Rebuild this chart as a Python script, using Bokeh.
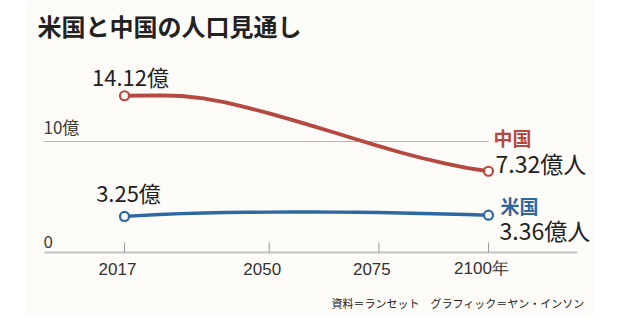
from bokeh.plotting import figure
from bokeh.models import Spacer, Range1d
from bokeh.layouts import row
from bokeh.core.properties import value
from bokeh.embed import file_html
from bokeh.resources import INLINE

# ---- data ----
years = [2017, 2025, 2030, 2035, 2040, 2045, 2050, 2055, 2060, 2065, 2070, 2075, 2080, 2085, 2090, 2095, 2100]
china = [14.12, 14.16, 14.1, 13.88, 13.52, 13.05, 12.53, 11.97, 11.39, 10.79, 10.18, 9.58, 9.01, 8.49, 8.03, 7.63, 7.32]
usa = [3.25, 3.42, 3.5, 3.56, 3.6, 3.62, 3.64, 3.65, 3.65, 3.64, 3.62, 3.6, 3.56, 3.52, 3.47, 3.42, 3.36]
tick_years = [2017, 2050, 2075, 2100]
tick_labels = ["2017", "2050", "2075", "2100年"]
y_ticks = [0, 10]
y_tick_labels = ["0", "10億"]
title_text = "米国と中国の人口見通し"
source_text = "資料＝ランセット　グラフィック＝ヤン・インソン"
china_name, usa_name = "中国", "米国"
china_start_label, usa_start_label = "14.12億", "3.25億"
china_end_label, usa_end_label = "7.32億人", "3.36億人"

# ---- layout / style ----
JP = "Noto Sans CJK JP"
TICKFONT = "Liberation Sans"
BG = "#fcfbf7"
RED = "#b54840"
BLUE = "#2c68a1"
DARK = "#222222"

W, H = 569, 315          # panel size
PX_YR = 364 / 83.0       # pixels per year
PX_UNIT = 11.1           # pixels per 100 million
X0_PX, Y0_PX = 99, 252   # pixel position of (2017, 0) inside the panel

def xpx(px):
    return 2017 + (px - X0_PX) / PX_YR

def ypx(py):
    return (Y0_PX - py) / PX_UNIT

p = figure(width=W, height=H, output_backend="svg", toolbar_location=None,
           x_axis_location=None, y_axis_location=None,
           x_range=Range1d(xpx(0), xpx(W)), y_range=Range1d(ypx(H), ypx(0)),
           min_border=0, background_fill_color=BG, border_fill_color=BG)
p.outline_line_color = None
p.grid.visible = False

axis_left, axis_right = xpx(19), xpx(552)

# gridline at 10 and baseline
p.segment(x0=[xpx(18)], y0=[y_ticks[1]], x1=[tick_years[-1]], y1=[y_ticks[1]],
          line_color="#b4b4b4", line_width=1.2)
p.segment(x0=[axis_left], y0=[y_ticks[0]], x1=[axis_right], y1=[y_ticks[0]],
          line_color="#c4c4c4", line_width=2)
# tick marks
p.segment(x0=tick_years, y0=[0] * len(tick_years), x1=tick_years,
          y1=[10 / PX_UNIT] * len(tick_years), line_color="#9a9a9a", line_width=1)

# tick labels
p.text(x=tick_years, y=[0] * len(tick_years), text=tick_labels,
       text_font=value(TICKFONT), text_font_size="17px", text_color="#333333",
       text_align="center", text_baseline="middle", x_offset=-7, y_offset=16)
p.text(x=[xpx(18)] * 2, y=y_ticks, text=y_tick_labels,
       text_font=value(JP), text_font_size="17px", text_color="#3a3a3a",
       text_align="left", text_baseline="middle", y_offset=[-11.5, -15.5])

# lines
p.line(years, china, line_color=RED, line_width=3.8)
p.line(years, usa, line_color=BLUE, line_width=3.4)
p.scatter([years[0], years[-1]], [china[0], china[-1]], size=9, fill_color=BG,
          line_color=RED, line_width=2.2)
p.scatter([years[0], years[-1]], [usa[0], usa[-1]], size=9, fill_color=BG,
          line_color=BLUE, line_width=2.2)

# value labels
p.text(x=[years[0]], y=[china[0]], text=[china_start_label], text_font=value(JP),
       text_font_size="22px", text_color=DARK, text_align="center",
       text_baseline="middle", x_offset=6, y_offset=-20)
p.text(x=[years[0]], y=[usa[0]], text=[usa_start_label], text_font=value(JP),
       text_font_size="22px", text_color=DARK, text_align="center",
       text_baseline="middle", x_offset=4, y_offset=-24)
p.text(x=[years[-1]], y=[china[-1]], text=[china_name], text_font=value(JP),
       text_font_size="19px", text_font_style="bold", text_color=RED,
       text_align="left", text_baseline="middle", x_offset=5, y_offset=-34)
p.text(x=[years[-1]], y=[china[-1]], text=[china_end_label], text_font=value(JP),
       text_font_size="23px", text_color=DARK, text_align="left",
       text_baseline="middle", x_offset=7, y_offset=-8)
p.text(x=[years[-1]], y=[usa[-1]], text=[usa_name], text_font=value(JP),
       text_font_size="19px", text_font_style="bold", text_color=BLUE,
       text_align="left", text_baseline="middle", x_offset=12, y_offset=-10)
p.text(x=[years[-1]], y=[usa[-1]], text=[usa_end_label], text_font=value(JP),
       text_font_size="23px", text_color=DARK, text_align="left",
       text_baseline="middle", x_offset=11, y_offset=15)

# title and source
p.text(x=[xpx(12)], y=[ypx(25)], text=[title_text], text_font=value(JP),
       text_font_size="24px", text_font_style="bold", text_color=DARK,
       text_align="left", text_baseline="middle")
p.text(x=[xpx(559)], y=[ypx(302)], text=[source_text], text_font=value(JP),
       text_font_size="11px", text_color=DARK, text_align="right",
       text_baseline="middle")

layout = row(Spacer(width=25, height=H), p)
open("out.html", "w").write(file_html(layout, INLINE))
